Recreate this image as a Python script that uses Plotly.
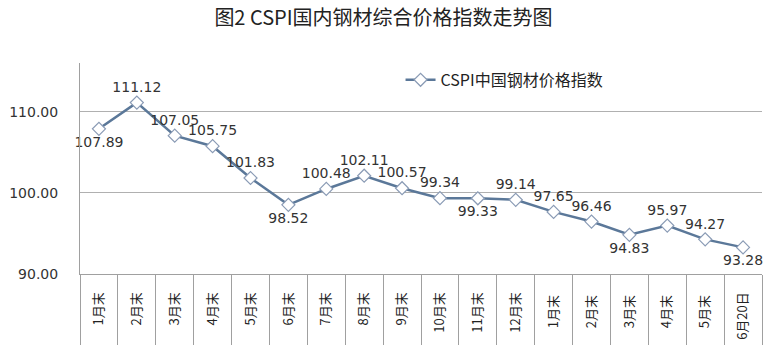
import plotly.graph_objects as go

categories = ["1月末", "2月末", "3月末", "4月末", "5月末", "6月末", "7月末", "8月末", "9月末",
              "10月末", "11月末", "12月末", "1月末 ", "2月末 ", "3月末 ", "4月末 ", "5月末 ", "6月20日"]
values = [107.89, 111.12, 107.05, 105.75, 101.83, 98.52, 100.48, 102.11, 100.57,
          99.34, 99.33, 99.14, 97.65, 96.46, 94.83, 95.97, 94.27, 93.28]
label_pos = ["bottom center", "top center", "top center", "top center", "top center", "bottom center",
             "top center", "top center", "top center", "top center", "bottom center", "top center",
             "top center", "top center", "bottom center", "top center", "top center", "bottom center"]
y_ticks = [90, 100, 110]
y_ticklabels = ["90.00", "100.00", "110.00"]
series_name = "CSPI中国钢材价格指数"
title_text = "图2 CSPI国内钢材综合价格指数走势图"

fig = go.Figure()
fig.add_trace(go.Scatter(
    x=categories, y=values, mode="lines+markers+text", name=series_name,
    text=[f"{v:.2f}" for v in values], textposition=label_pos,
    textfont=dict(family="DejaVu Sans", size=14, color="#333333"),
    line=dict(color="#5b7899", width=2.5),
    marker=dict(symbol="diamond", size=10, color="white", line=dict(color="#8a9bb5", width=1.2)),
    cliponaxis=False,
))

fig.update_layout(
    width=767, height=354,
    margin=dict(l=80, r=5, t=63, b=80),
    paper_bgcolor="white", plot_bgcolor="white",
    title=dict(text=title_text, x=0.5, xanchor="center", y=0.95, yanchor="middle",
               font=dict(family="Noto Sans CJK SC", size=20, color="#222222")),
    showlegend=True,
    legend=dict(x=0.47, y=0.92, xanchor="left", yanchor="middle", bgcolor="rgba(0,0,0,0)",
                font=dict(family="Noto Sans CJK SC", size=16, color="#222222")),
    xaxis=dict(type="category", range=[-0.5, 17.5], showgrid=False, showline=True,
               linecolor="#a0a0a0", linewidth=1,
               tickson="boundaries", ticks="outside", ticklen=70, tickcolor="#a0a0a0", tickwidth=1,
               tickangle=-90, ticklabelstandoff=12,
               tickfont=dict(family="Noto Sans CJK SC", size=13, color="#222222")),
    yaxis=dict(range=[90, 116], tickvals=y_ticks, ticktext=y_ticklabels, showgrid=True,
               gridcolor="#b0b0b0", gridwidth=1, showline=True, linecolor="#a0a0a0", linewidth=1,
               zeroline=False, ticks="", ticklabelstandoff=18,
               tickfont=dict(family="DejaVu Sans", size=14, color="#333333")),
)

fig.write_html("out.html")
